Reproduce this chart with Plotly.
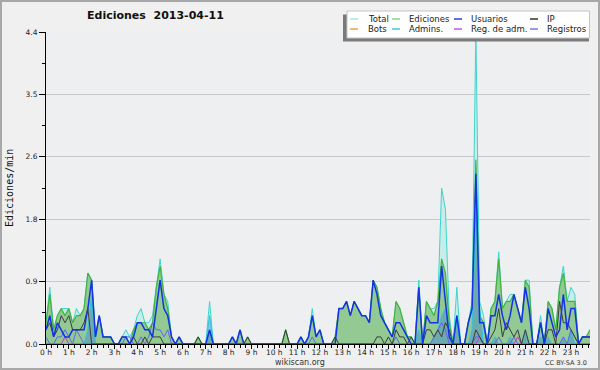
import plotly.graph_objects as go

# ---------------- data (10-minute bins, values in edits/min) ----------------
hour_labels = [f"{h} h" for h in range(24)]
y_tick_vals = [0.0, 0.88, 1.76, 2.64, 3.52, 4.4]
y_tick_text = ["0.0", "0.9", "1.8", "2.6", "3.5", "4.4"]

total = [
    0.3, 0.8, 0.2, 0.4, 0.5, 0.5,   # 0 h
    0.5, 0.3, 0.5, 0.4, 0.5, 1.0,   # 1 h
    0.9, 0.1, 0.4, 0.1, 0.1, 0.1,   # 2 h
    0.0, 0.0, 0.1, 0.2, 0.1, 0.2,   # 3 h
    0.4, 0.5, 0.3, 0.3, 0.4, 0.8,   # 4 h
    1.2, 0.7, 0.6, 0.1, 0.0, 0.1,   # 5 h
    0.0, 0.0, 0.0, 0.0, 0.1, 0.0,   # 6 h
    0.0, 0.6, 0.0, 0.0, 0.0, 0.0,   # 7 h
    0.0, 0.1, 0.0, 0.2, 0.0, 0.1,   # 8 h
    0.0, 0.0, 0.0, 0.0, 0.0, 0.0,   # 9 h
    0.0, 0.0, 0.0, 0.2, 0.0, 0.0,   # 10 h
    0.0, 0.1, 0.0, 0.1, 0.5, 0.1,   # 11 h
    0.2, 0.0, 0.0, 0.0, 0.1, 0.5,   # 12 h
    0.5, 0.6, 0.4, 0.6, 0.5, 0.4,   # 13 h
    0.4, 0.3, 0.9, 0.8, 0.5, 0.3,   # 14 h
    0.2, 0.1, 0.6, 0.5, 0.3, 0.1,   # 15 h
    0.1, 0.0, 0.9, 0.0, 0.6, 0.5,   # 16 h
    0.5, 0.6, 2.2, 1.9, 0.4, 0.0,   # 17 h
    0.8, 0.0, 0.0, 0.3, 0.6, 4.4,   # 18 h
    0.6, 0.4, 0.0, 0.5, 0.6, 1.3,   # 19 h
    0.5, 0.6, 0.7, 0.7, 0.5, 0.3,   # 20 h
    0.9, 0.9, 0.0, 0.0, 0.4, 0.0,   # 21 h
    0.6, 0.5, 0.2, 0.8, 1.1, 0.6,   # 22 h
    0.8, 0.7, 0.0, 0.1, 0.1, 0.2,   # 23 h
]

ediciones = [
    0.3, 0.7, 0.2, 0.4, 0.5, 0.4,
    0.5, 0.3, 0.4, 0.4, 0.5, 1.0,
    0.9, 0.1, 0.4, 0.1, 0.1, 0.1,
    0.0, 0.0, 0.1, 0.1, 0.0, 0.2,
    0.3, 0.3, 0.3, 0.2, 0.3, 0.8,
    1.1, 0.7, 0.5, 0.1, 0.0, 0.1,
    0.0, 0.0, 0.0, 0.0, 0.1, 0.0,
    0.0, 0.2, 0.0, 0.0, 0.0, 0.0,
    0.0, 0.1, 0.0, 0.2, 0.0, 0.1,
    0.0, 0.0, 0.0, 0.0, 0.0, 0.0,
    0.0, 0.0, 0.0, 0.2, 0.0, 0.0,
    0.0, 0.1, 0.0, 0.1, 0.4, 0.1,
    0.2, 0.0, 0.0, 0.0, 0.1, 0.5,
    0.5, 0.6, 0.4, 0.6, 0.5, 0.4,
    0.4, 0.3, 0.9, 0.8, 0.5, 0.3,
    0.2, 0.1, 0.6, 0.5, 0.3, 0.1,
    0.1, 0.0, 0.8, 0.0, 0.6, 0.5,
    0.4, 0.6, 1.2, 1.0, 0.3, 0.0,
    0.4, 0.0, 0.0, 0.3, 0.5, 2.6,
    0.4, 0.3, 0.0, 0.5, 0.6, 1.2,
    0.5, 0.6, 0.6, 0.7, 0.5, 0.3,
    0.9, 0.8, 0.0, 0.0, 0.3, 0.0,
    0.6, 0.5, 0.2, 0.8, 1.0, 0.6,
    0.6, 0.6, 0.0, 0.1, 0.1, 0.2,
]

usuarios = [
    0.2, 0.4, 0.1, 0.3, 0.2, 0.1,
    0.1, 0.2, 0.2, 0.2, 0.2, 0.5,
    0.9, 0.1, 0.4, 0.1, 0.1, 0.1,
    0.0, 0.0, 0.1, 0.1, 0.0, 0.1,
    0.3, 0.3, 0.2, 0.2, 0.1, 0.5,
    0.9, 0.5, 0.4, 0.1, 0.0, 0.1,
    0.0, 0.0, 0.0, 0.0, 0.0, 0.0,
    0.0, 0.2, 0.0, 0.0, 0.0, 0.0,
    0.0, 0.1, 0.0, 0.2, 0.0, 0.0,
    0.0, 0.0, 0.0, 0.0, 0.0, 0.0,
    0.0, 0.0, 0.0, 0.0, 0.0, 0.0,
    0.0, 0.1, 0.0, 0.1, 0.4, 0.1,
    0.2, 0.0, 0.0, 0.0, 0.0, 0.5,
    0.5, 0.6, 0.4, 0.6, 0.5, 0.4,
    0.4, 0.3, 0.9, 0.7, 0.4, 0.3,
    0.2, 0.1, 0.3, 0.3, 0.2, 0.1,
    0.0, 0.0, 0.8, 0.0, 0.4, 0.3,
    0.3, 0.3, 1.1, 0.6, 0.1, 0.0,
    0.4, 0.0, 0.0, 0.3, 0.5, 2.4,
    0.3, 0.3, 0.0, 0.4, 0.4, 0.7,
    0.4, 0.2, 0.4, 0.7, 0.5, 0.3,
    0.8, 0.5, 0.0, 0.0, 0.3, 0.0,
    0.5, 0.3, 0.1, 0.2, 0.7, 0.2,
    0.5, 0.5, 0.0, 0.1, 0.1, 0.1,
]

ip = [
    0.2, 0.3, 0.1, 0.2, 0.4, 0.3,
    0.4, 0.2, 0.2, 0.2, 0.3, 0.5,
    0.0, 0.0, 0.0, 0.0, 0.0, 0.0,
    0.0, 0.0, 0.0, 0.0, 0.0, 0.1,
    0.0, 0.0, 0.1, 0.0, 0.1, 0.1,
    0.1, 0.0, 0.0, 0.0, 0.0, 0.0,
    0.0, 0.0, 0.0, 0.0, 0.1, 0.0,
    0.0, 0.0, 0.0, 0.0, 0.0, 0.0,
    0.0, 0.0, 0.0, 0.0, 0.0, 0.1,
    0.0, 0.0, 0.0, 0.0, 0.0, 0.0,
    0.0, 0.0, 0.0, 0.2, 0.0, 0.0,
    0.0, 0.0, 0.0, 0.0, 0.0, 0.0,
    0.0, 0.0, 0.0, 0.0, 0.1, 0.0,
    0.0, 0.0, 0.0, 0.0, 0.0, 0.0,
    0.0, 0.0, 0.0, 0.1, 0.1, 0.0,
    0.1, 0.0, 0.2, 0.1, 0.1, 0.0,
    0.1, 0.0, 0.0, 0.0, 0.2, 0.2,
    0.1, 0.2, 0.1, 0.3, 0.2, 0.0,
    0.0, 0.0, 0.0, 0.0, 0.0, 0.2,
    0.1, 0.0, 0.0, 0.1, 0.2, 0.5,
    0.1, 0.3, 0.2, 0.1, 0.2, 0.0,
    0.2, 0.0, 0.0, 0.0, 0.3, 0.0,
    0.2, 0.2, 0.0, 0.6, 0.3, 0.3,
    0.2, 0.1, 0.0, 0.1, 0.1, 0.1,
]

admins = [
    0.0, 0.0, 0.0, 0.0, 0.0, 0.0,
    0.0, 0.0, 0.0, 0.0, 0.0, 0.2,
    0.7, 0.0, 0.0, 0.0, 0.0, 0.0,
    0.0, 0.0, 0.0, 0.0, 0.0, 0.0,
    0.0, 0.0, 0.0, 0.0, 0.0, 0.0,
    0.0, 0.0, 0.0, 0.0, 0.0, 0.0,
    0.0, 0.0, 0.0, 0.0, 0.0, 0.0,
    0.0, 0.4, 0.0, 0.0, 0.0, 0.0,
    0.0, 0.0, 0.0, 0.0, 0.0, 0.0,
    0.0, 0.0, 0.0, 0.0, 0.0, 0.0,
    0.0, 0.0, 0.0, 0.0, 0.0, 0.0,
    0.0, 0.0, 0.0, 0.0, 0.0, 0.0,
    0.0, 0.0, 0.0, 0.0, 0.0, 0.0,
    0.0, 0.0, 0.0, 0.0, 0.0, 0.0,
    0.0, 0.0, 0.0, 0.0, 0.0, 0.0,
    0.0, 0.0, 0.0, 0.0, 0.0, 0.0,
    0.0, 0.0, 0.2, 0.0, 0.0, 0.0,
    0.1, 0.2, 0.4, 0.5, 0.2, 0.0,
    0.3, 0.0, 0.0, 0.0, 0.2, 1.8,
    0.5, 0.0, 0.0, 0.0, 0.1, 0.0,
    0.0, 0.0, 0.1, 0.0, 0.0, 0.0,
    0.2, 0.0, 0.0, 0.0, 0.1, 0.0,
    0.1, 0.0, 0.0, 0.0, 0.1, 0.0,
    0.2, 0.0, 0.0, 0.0, 0.0, 0.0,
]

registros = [
    0.1, 0.0, 0.0, 0.1, 0.1, 0.2,
    0.1, 0.0, 0.2, 0.1, 0.0, 0.0,
    0.0, 0.0, 0.0, 0.0, 0.0, 0.0,
    0.0, 0.0, 0.0, 0.1, 0.1, 0.0,
    0.0, 0.1, 0.0, 0.1, 0.3, 0.2,
    0.2, 0.1, 0.2, 0.0, 0.0, 0.0,
    0.0, 0.0, 0.0, 0.0, 0.0, 0.0,
    0.0, 0.0, 0.0, 0.0, 0.0, 0.0,
    0.0, 0.0, 0.0, 0.0, 0.0, 0.0,
    0.0, 0.0, 0.0, 0.0, 0.0, 0.0,
    0.0, 0.0, 0.0, 0.0, 0.0, 0.0,
    0.0, 0.0, 0.0, 0.0, 0.1, 0.0,
    0.0, 0.0, 0.0, 0.0, 0.0, 0.0,
    0.0, 0.0, 0.0, 0.0, 0.0, 0.0,
    0.0, 0.0, 0.0, 0.0, 0.0, 0.0,
    0.0, 0.0, 0.1, 0.0, 0.0, 0.0,
    0.0, 0.0, 0.0, 0.0, 0.0, 0.0,
    0.1, 0.2, 0.3, 0.2, 0.0, 0.0,
    0.0, 0.0, 0.0, 0.0, 0.0, 0.1,
    0.1, 0.0, 0.0, 0.0, 0.0, 0.1,
    0.0, 0.0, 0.0, 0.1, 0.0, 0.0,
    0.0, 0.0, 0.0, 0.0, 0.0, 0.0,
    0.0, 0.0, 0.0, 0.0, 0.1, 0.0,
    0.2, 0.1, 0.0, 0.0, 0.0, 0.0,
]

reg_adm = [0.0] * 144
reg_adm_points = {5: 0.1, 114: 0.1, 124: 0.1}   # bin index -> value
for k, v in reg_adm_points.items():
    reg_adm[k] = v

bots = [0.0] * 144

x_hours = [i / 6 for i in range(144)]   # bin start in hours

# ---------------- figure ----------------
L, R, T, B = 46, 10, 32, 26
W, H = 600, 370
PW, PH = W - L - R, H - T - B


def px(x):
    return (x - L) / PW


def py(y):
    return (H - B - y) / PH


fig = go.Figure()


def add(name, y, color, width=1.0, fill=None, fillcolor=None):
    fig.add_trace(go.Scatter(
        x=x_hours, y=y, name=name, mode="lines",
        line=dict(color=color, width=width),
        fill=fill, fillcolor=fillcolor, showlegend=False,
        hoverinfo="skip"))


add("Total", total, "#3cd6cc", 1.0, "tozeroy", "#c9ece9")
add("Ediciones", ediciones, "#3fb43f", 1.2, "tozeroy", "#93c993")
add("Admins.", admins, "#33c4dc", 1.0, "tozeroy", "rgba(40,110,230,0.35)")
add("Bots", bots, "#f5a030", 1.0)
add("Reg. de adm.", reg_adm, "#cc33cc", 1.0)
add("Registros", registros, "#6464f0", 1.0)
add("IP", ip, "#3c3c3c", 1.0)
add("Usuarios", usuarios, "#1432e6", 1.5)

tick_font = dict(family="DejaVu Sans", size=7.5, color="#222222")

fig.update_layout(
    width=W, height=H,
    margin=dict(l=L, r=R, t=T, b=B, pad=0),
    paper_bgcolor="#f0f0f0",
    plot_bgcolor="#eeeff1",
    showlegend=False,
    xaxis=dict(
        range=[0, 143 / 6],
        tickvals=list(range(24)), ticktext=hour_labels,
        ticks="outside", ticklen=4, tickwidth=1, tickcolor="black",
        showline=True, linecolor="black", linewidth=1,
        showgrid=False, zeroline=False, tickfont=tick_font,
        ticklabelstandoff=-3,
        minor=dict(dtick=0.25, tick0=0, ticks="outside", ticklen=3,
                   tickcolor="black", tickwidth=1, showgrid=False),
    ),
    yaxis=dict(
        range=[0, 4.4],
        tickvals=y_tick_vals, ticktext=y_tick_text,
        ticks="outside", ticklen=6, tickwidth=1, tickcolor="black",
        showline=True, linecolor="black", linewidth=1,
        showgrid=True, gridcolor="#c8c8c8", gridwidth=1,
        zeroline=False, tickfont=tick_font,
        minor=dict(tickvals=[0.44, 1.32, 2.2, 3.08, 3.96], ticks="outside",
                   ticklen=3, tickcolor="black", tickwidth=1, showgrid=False),
    ),
)

shapes = []
# outer border
shapes.append(dict(type="rect", xref="paper", yref="paper",
                   x0=px(1), x1=px(599), y0=py(369), y1=py(1),
                   line=dict(color="#a8a8a8", width=2), layer="above"))
# legend shadow and box
shapes.append(dict(type="rect", xref="paper", yref="paper",
                   x0=px(343), x1=px(589), y0=py(41.5), y1=py(14.5),
                   fillcolor="#7a7a7a", line=dict(width=0), layer="above"))
shapes.append(dict(type="rect", xref="paper", yref="paper",
                   x0=px(347), x1=px(589.5), y0=py(38), y1=py(11),
                   fillcolor="white", line=dict(color="#c4c4c4", width=1),
                   layer="above"))

legend_items = [
    ("Total", "#a8e4e0", 350, 366, 19),
    ("Ediciones", "#8fd08f", 392, 407, 19),
    ("Usuarios", "#3838e0", 454, 469, 19),
    ("IP", "#303030", 530, 545, 19),
    ("Bots", "#f4a040", 350, 366, 29),
    ("Admins.", "#40c8e0", 392, 407, 29),
    ("Reg. de adm.", "#d050e0", 454, 469, 29),
    ("Registros", "#7878f0", 530, 545, 29),
]
annotations = []
for name, col, lx, tx, ly in legend_items:
    shapes.append(dict(type="line", xref="paper", yref="paper",
                       x0=px(lx), x1=px(lx + 8), y0=py(ly), y1=py(ly),
                       line=dict(color=col, width=1.5), layer="above"))
    annotations.append(dict(text=name, xref="paper", yref="paper",
                            x=px(tx), y=py(ly), xanchor="left", yanchor="middle",
                            showarrow=False,
                            font=dict(family="DejaVu Sans", size=8.5, color="#222222")))

annotations.append(dict(text="<b>Ediciones\u00a0\u00a02013-04-11</b>",
                        xref="paper", yref="paper", x=px(85), y=py(16),
                        xanchor="left", yanchor="middle", showarrow=False,
                        font=dict(family="DejaVu Sans", size=11, color="#111111")))
annotations.append(dict(text="Ediciones/min", xref="paper", yref="paper",
                        x=px(9), y=0.5, textangle=-90, xanchor="center",
                        yanchor="middle", showarrow=False,
                        font=dict(family="DejaVu Sans Mono", size=10, color="#111111")))
annotations.append(dict(text="wikiscan.org", xref="paper", yref="paper",
                        x=px(300), y=py(362), xanchor="center", yanchor="middle",
                        showarrow=False,
                        font=dict(family="DejaVu Sans", size=8, color="#333333")))
annotations.append(dict(text="CC BY-SA 3.0", xref="paper", yref="paper",
                        x=px(589), y=py(362.5), xanchor="right", yanchor="middle",
                        showarrow=False,
                        font=dict(family="DejaVu Sans", size=6.5, color="#333333")))

fig.update_layout(shapes=shapes, annotations=annotations)

fig.write_html("out.html")
